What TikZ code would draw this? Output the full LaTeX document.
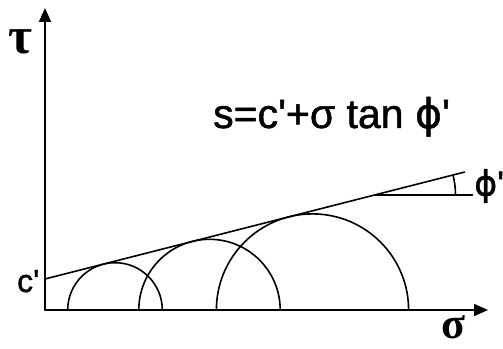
\documentclass[tikz,border=0pt]{standalone}
\usepackage{fontspec}
\setmainfont{Liberation Sans}
\newfontfamily\labfont[FakeBold=1.2]{Liberation Sans}
\newfontfamily\phifont[FakeBold=1.2]{DejaVu Sans}
\newfontfamily\greekfont{Liberation Serif}
\usetikzlibrary{arrows.meta}

\begin{document}
\begin{tikzpicture}[
		x=1pt,
		y=1pt,
		line cap=round,
		line join=round,
		axis/.style={line width=1.8pt, -{Triangle[length=14pt,width=12pt]}},
		curve/.style={line width=1.6pt},
		lab/.style={inner sep=0pt, font=\labfont\fontsize{41}{41}\selectfont},
		axislab/.style={inner sep=0pt, font=\greekfont\bfseries\fontsize{52}{52}\selectfont}
		]
		\useasboundingbox (-45,-38) rectangle (458,310);
		
		% Axes sigma and tau
		\coordinate (O) at (0,0);
		\draw[axis] (O) -- (0,302) coordinate (ytip);
		\draw[axis] (O) -- (443,0) coordinate (xtip);
		\node[axislab] (tau) at (-25,268) {τ};
		\node[axislab, font=\greekfont\bfseries\fontsize{44}{44}\selectfont] (sigma) at (408,-17) {σ};
		
		% Mohr circles at failure
		\foreach \c/\r in {70/47.3, 164.5/70.7, 267.5/96.1}
		{
			\draw[curve] (\c+\r,0) arc[start angle=0,end angle=180,radius=\r];
		}
		
		% Failure envelope, cohesion c' and friction angle phi'
		\coordinate (cpt) at (0,31);
		\draw[curve] (cpt) -- ++(14.3:433) coordinate (lend);
		\coordinate (h) at (329.5,115);
		\draw[curve] (h) -- ++(98,0) coordinate (hend);
		\draw[curve] (h) ++(81,0) arc[start angle=0,end angle=14.3,radius=81];
		
		% Labels
		\node[lab, font=\labfont\fontsize{32}{32}\selectfont, anchor=base west] (clab) at (-28,18) {c\textquotesingle};
		\node[lab, anchor=base west] (eq) at (168,182) {s=c\textquotesingle+σ tan {\phifont ϕ}\textquotesingle};
		\node[lab, font=\labfont\fontsize{35}{35}\selectfont, anchor=west] (philab) at (429,124) {{\phifont ϕ}\textquotesingle};
	\end{tikzpicture}
\end{document}
